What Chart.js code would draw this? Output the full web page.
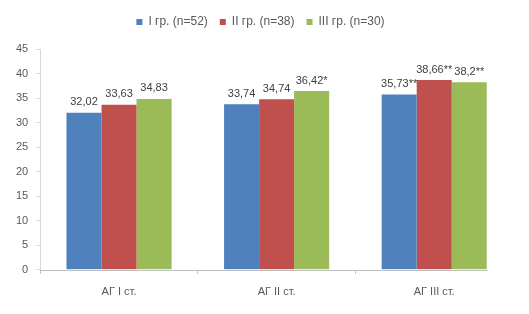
<!DOCTYPE html>
<html>
<head>
<meta charset="utf-8">
<script src="https://cdn.jsdelivr.net/npm/chart.js@4"></script>
<style>
  html, body { margin: 0; padding: 0; background: #fff; }
  #wrap { width: 529px; height: 314px; }
</style>
</head>
<body>
<div id="wrap"><canvas id="chart"></canvas></div>
<script>
const categories = ['АГ I ст.', 'АГ II ст.', 'АГ III ст.'];
const seriesNames = ['I гр. (n=52)', 'II гр. (n=38)', 'III гр. (n=30)'];
const group1 = [32.02, 33.74, 35.73];
const group2 = [33.63, 34.74, 38.66];
const group3 = [34.83, 36.42, 38.2];
const labels1 = ['32,02', '33,74', '35,73**'];
const labels2 = ['33,63', '34,74', '38,66**'];
const labels3 = ['34,83', '36,42*', '38,2**'];
const colors = ['#4F81BD', '#C0504D', '#9BBB59'];

const FONT = "'Liberation Sans', Arial, sans-serif";

// extra gap under the legend
const legendGap = {
  id: 'legendGap',
  beforeInit(chart) {
    const fit = chart.legend.fit;
    chart.legend.fit = function () {
      fit.call(this);
      this.height += 11;
    };
  }
};

// value labels above bars + x axis line that stops at the last bar
const barLabels = {
  id: 'barLabels',
  afterDatasetsDraw(chart) {
    const ctx = chart.ctx;
    ctx.save();
    ctx.font = '11px ' + FONT;
    ctx.fillStyle = '#404040';
    ctx.textAlign = 'center';
    ctx.textBaseline = 'bottom';
    chart.data.datasets.forEach((ds, i) => {
      chart.getDatasetMeta(i).data.forEach((bar, j) => {
        ctx.fillText(ds.valueLabels[j], bar.x, bar.y - 5);
      });
    });
    const meta = chart.getDatasetMeta(chart.data.datasets.length - 1);
    const last = meta.data[meta.data.length - 1];
    const y = Math.round(chart.scales.y.getPixelForValue(0)) + 0.5;
    ctx.strokeStyle = '#BFBFBF';
    ctx.lineWidth = 1;
    ctx.beginPath();
    ctx.moveTo(chart.chartArea.left, y);
    ctx.lineTo(last.x + last.width / 2 + 1, y);
    ctx.stroke();
    ctx.restore();
  }
};

new Chart(document.getElementById('chart'), {
  type: 'bar',
  data: {
    labels: categories,
    datasets: [
      { label: seriesNames[0], data: group1, valueLabels: labels1, backgroundColor: colors[0] },
      { label: seriesNames[1], data: group2, valueLabels: labels2, backgroundColor: colors[1] },
      { label: seriesNames[2], data: group3, valueLabels: labels3, backgroundColor: colors[2] }
    ]
  },
  options: {
    responsive: true,
    maintainAspectRatio: false,
    animation: false,
    categoryPercentage: 0.667,
    barPercentage: 1,
    layout: { padding: { left: 8, right: 16, top: 4, bottom: 3 } },
    plugins: {
      legend: {
        position: 'top',
        labels: {
          boxWidth: 6,
          boxHeight: 6,
          padding: 12,
          color: '#595959',
          font: { family: FONT, size: 12 }
        }
      },
      tooltip: { enabled: false }
    },
    scales: {
      x: {
        grid: {
          offset: true,
          drawOnChartArea: false,
          drawTicks: true,
          tickLength: 4,
          color: (c) => c.type === 'tick' ? '#BFBFBF' : 'rgba(0,0,0,0)'
        },
        border: { display: false },
        ticks: { color: '#595959', padding: 12, font: { family: FONT, size: 11 } }
      },
      y: {
        min: 0,
        max: 45,
        ticks: { stepSize: 5, color: '#595959', padding: 8, font: { family: FONT, size: 11 } },
        grid: { drawOnChartArea: false, tickLength: 4, color: '#D9D9D9' },
        border: { color: '#D9D9D9' }
      }
    }
  },
  plugins: [legendGap, barLabels]
});
</script>
</body>
</html>
